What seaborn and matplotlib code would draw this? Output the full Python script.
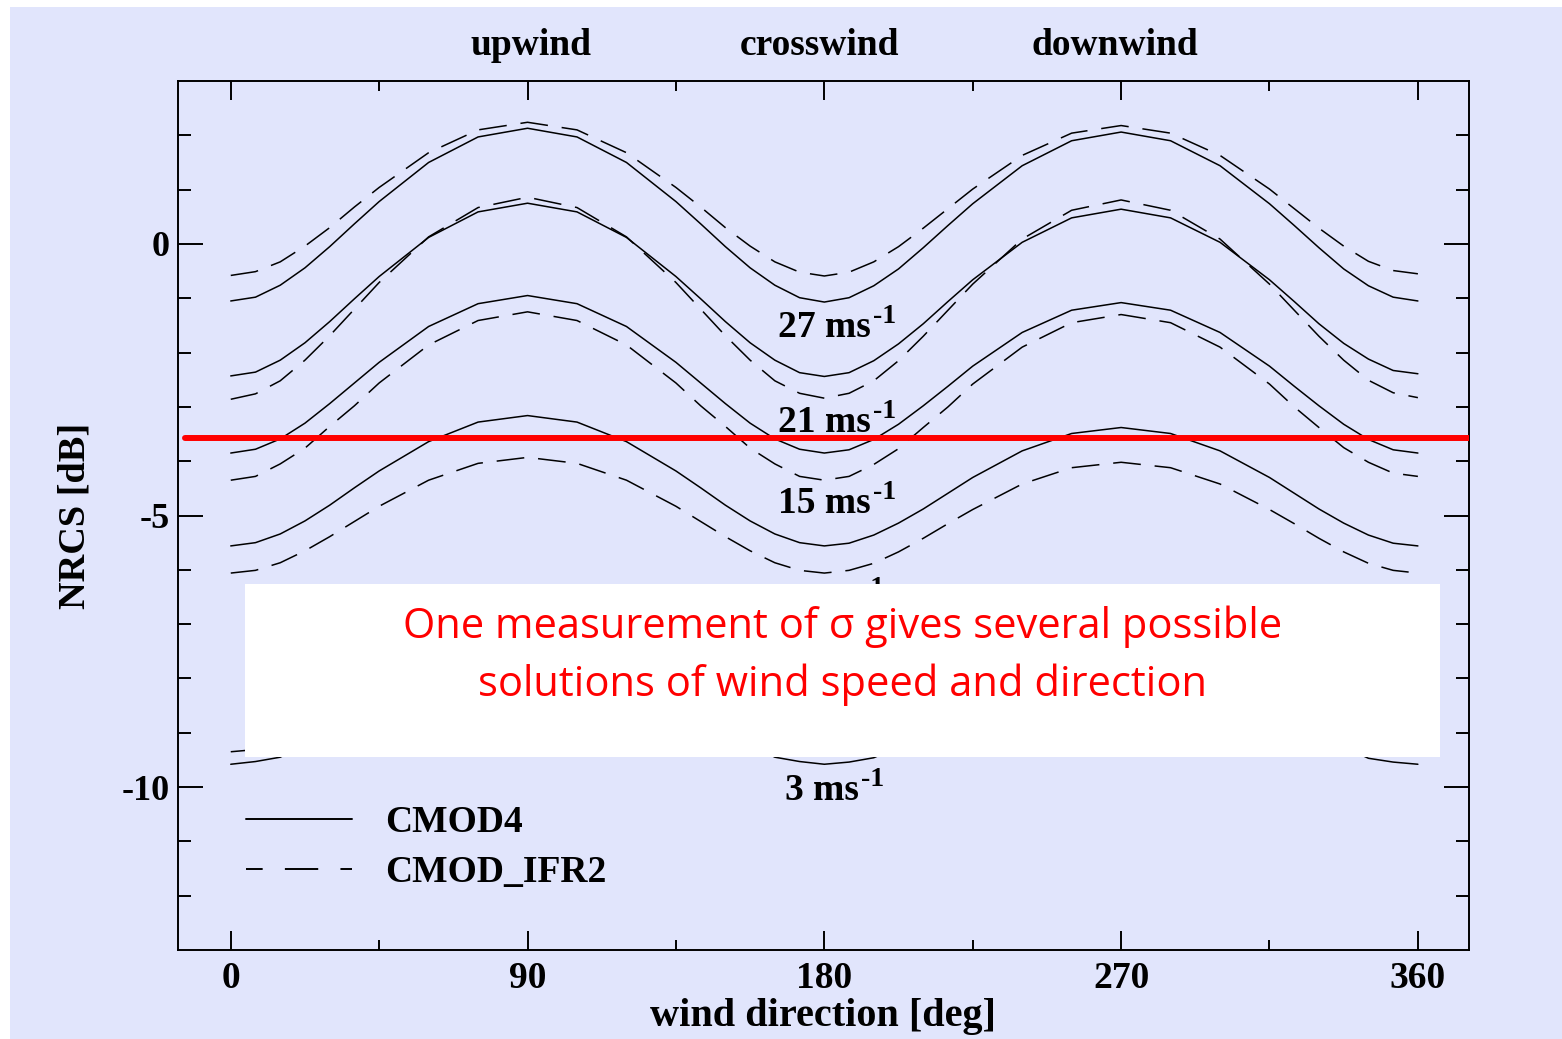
import numpy as np
import pandas as pd
import matplotlib
matplotlib.use("Agg")
import matplotlib.pyplot as plt
import matplotlib.transforms as mtransforms
from matplotlib.lines import Line2D
from matplotlib.patches import Rectangle
import seaborn as sns

# ---------------- data ----------------
direction = [0, 7.5, 15, 22.5, 30, 37.5, 45, 60, 75, 90, 105, 120,
             135, 142.5, 150, 157.5, 165, 172.5, 180, 187.5, 195, 202.5, 210, 217.5,
             225, 240, 255, 270, 285, 300,
             315, 322.5, 330, 337.5, 345, 352.5, 360]

cmod4_27 = [-1.05, -0.98, -0.76, -0.44, -0.05, 0.37, 0.78, 1.50, 1.97, 2.13, 1.97, 1.50,
            0.78, 0.37, -0.05, -0.44, -0.76, -0.99, -1.07, -0.99, -0.77, -0.46, -0.07, 0.34,
            0.74, 1.44, 1.90, 2.06, 1.90, 1.44,
            0.74, 0.34, -0.07, -0.46, -0.77, -0.98, -1.05]
ifr2_27 = [-0.58, -0.51, -0.33, -0.04, 0.30, 0.68, 1.04, 1.68, 2.10, 2.24, 2.10, 1.68,
           1.04, 0.68, 0.30, -0.04, -0.33, -0.52, -0.59, -0.52, -0.33, -0.05, 0.29, 0.65,
           1.01, 1.63, 2.04, 2.18, 2.04, 1.63,
           1.01, 0.65, 0.29, -0.04, -0.32, -0.49, -0.55]
cmod4_21 = [-2.43, -2.36, -2.14, -1.82, -1.43, -1.01, -0.60, 0.12, 0.59, 0.75, 0.59, 0.12,
            -0.60, -1.01, -1.43, -1.82, -2.14, -2.37, -2.44, -2.37, -2.15, -1.84, -1.47, -1.06,
            -0.66, 0.03, 0.48, 0.64, 0.48, 0.03,
            -0.66, -1.06, -1.47, -1.83, -2.12, -2.33, -2.39]
ifr2_21 = [-2.86, -2.76, -2.52, -2.14, -1.69, -1.20, -0.71, 0.13, 0.67, 0.86, 0.67, 0.13,
           -0.71, -1.20, -1.69, -2.14, -2.52, -2.75, -2.84, -2.75, -2.52, -2.15, -1.70, -1.22,
           -0.74, 0.09, 0.62, 0.81, 0.62, 0.09,
           -0.74, -1.22, -1.70, -2.14, -2.51, -2.74, -2.83]
cmod4_15 = [-3.85, -3.78, -3.59, -3.30, -2.94, -2.56, -2.18, -1.52, -1.10, -0.95, -1.10, -1.52,
            -2.18, -2.56, -2.94, -3.30, -3.59, -3.78, -3.85, -3.79, -3.60, -3.32, -2.98, -2.62,
            -2.25, -1.63, -1.22, -1.08, -1.22, -1.63,
            -2.25, -2.62, -2.98, -3.32, -3.60, -3.79, -3.85]
ifr2_15 = [-4.35, -4.28, -4.05, -3.76, -3.36, -2.98, -2.56, -1.86, -1.41, -1.25, -1.41, -1.86,
           -2.56, -2.98, -3.36, -3.76, -4.05, -4.28, -4.35, -4.28, -4.06, -3.77, -3.38, -3.00,
           -2.58, -1.90, -1.45, -1.30, -1.45, -1.90,
           -2.58, -3.00, -3.38, -3.75, -4.02, -4.22, -4.28]
cmod4_9 = [-5.56, -5.50, -5.34, -5.10, -4.81, -4.49, -4.18, -3.64, -3.28, -3.16, -3.28, -3.64,
           -4.18, -4.49, -4.81, -5.10, -5.34, -5.50, -5.56, -5.51, -5.36, -5.14, -4.88, -4.59,
           -4.30, -3.81, -3.49, -3.38, -3.49, -3.81,
           -4.30, -4.59, -4.88, -5.14, -5.36, -5.51, -5.56]
ifr2_9 = [-6.06, -6.01, -5.87, -5.65, -5.39, -5.11, -4.83, -4.35, -4.04, -3.93, -4.04, -4.35,
          -4.83, -5.11, -5.39, -5.65, -5.87, -6.01, -6.06, -6.01, -5.88, -5.67, -5.42, -5.15,
          -4.89, -4.42, -4.12, -4.02, -4.12, -4.42,
          -4.89, -5.15, -5.42, -5.67, -5.88, -6.01, -6.06]
cmod4_3 = [-9.58, -9.53, -9.45, -9.22, -8.96, -8.70, -8.44, -7.99, -7.70, -7.60, -7.70, -7.99,
           -8.44, -8.70, -8.96, -9.22, -9.45, -9.53, -9.58, -9.54, -9.46, -9.26, -9.05, -8.83,
           -8.61, -8.23, -7.99, -7.90, -7.99, -8.23,
           -8.61, -8.83, -9.05, -9.26, -9.47, -9.54, -9.58]
ifr2_3 = [-9.35, -9.31, -9.21, -9.06, -8.87, -8.67, -8.47, -8.12, -7.90, -7.82, -7.90, -8.12,
          -8.47, -8.67, -8.87, -9.06, -9.21, -9.33, -9.38, -9.35, -9.23, -9.10, -8.93, -8.76,
          -8.58, -8.28, -8.09, -8.02, -8.09, -8.28,
          -8.58, -8.76, -8.93, -9.10, -9.23, -9.35, -9.38]

speeds = ["27", "21", "15", "9", "3"]
speed_label_left = [165.9, 165.9, 165.9, 168.0, 168.0]
speed_label_y = [-1.72, -3.46, -4.96, -6.72, -10.23]

models = ["CMOD4", "CMOD_IFR2"]
regime_names = ["upwind", "crosswind", "downwind"]
regime_x = [91, 178.6, 268.1]

measured_nrcs = -3.58

x_ticks = [0, 90, 180, 270, 360]
x_tick_labels = ["0", "90", "180", "270", "360"]
y_ticks = [-10, -5, 0]
y_tick_labels = ["-10", "-5", "0"]

note_lines = ["One measurement of \u03c3 gives several possible",
              "solutions of wind speed and direction"]

curves = {
    ("27", "CMOD4"): cmod4_27, ("27", "CMOD_IFR2"): ifr2_27,
    ("21", "CMOD4"): cmod4_21, ("21", "CMOD_IFR2"): ifr2_21,
    ("15", "CMOD4"): cmod4_15, ("15", "CMOD_IFR2"): ifr2_15,
    ("9", "CMOD4"): cmod4_9, ("9", "CMOD_IFR2"): ifr2_9,
    ("3", "CMOD4"): cmod4_3, ("3", "CMOD_IFR2"): ifr2_3,
}
rows = []
for (spd, mdl), vals in curves.items():
    for d, v in zip(direction, vals):
        rows.append({"direction": d, "nrcs": v, "model": mdl, "curve": f"{spd}_{mdl}"})
df = pd.DataFrame(rows)

# ---------------- style ----------------
LAV = "#e1e5fc"
sns.set_theme(style="ticks")
plt.rcParams.update({
    "font.family": ["Liberation Serif", "DejaVu Serif"],
    "font.weight": "bold",
    "text.color": "black",
    "axes.labelcolor": "black",
    "xtick.color": "black",
    "ytick.color": "black",
    "axes.unicode_minus": False,
    "lines.scale_dashes": False,
})

fig = plt.figure(figsize=(15.62, 10.39), dpi=100, facecolor="white")
fig.patches.append(Rectangle((10 / 1562, 0), 1, 1 - 7 / 1039, transform=fig.transFigure,
                             facecolor=LAV, edgecolor="none", zorder=-10))
ax = fig.add_axes([178 / 1562, 89 / 1039, 1291 / 1562, 869 / 1039])
ax.set_facecolor(LAV)

sns.lineplot(data=df, x="direction", y="nrcs", units="curve", estimator=None,
             style="model", style_order=models,
             dashes={"CMOD4": "", "CMOD_IFR2": (20, 10)},
             color="black", lw=1.1, legend=False, sort=False, ax=ax)

ax.axhline(measured_nrcs, xmin=0.0054, xmax=1.0, color="#ff0000", lw=4.3, zorder=3)

for s, lx, ly in zip(speeds, speed_label_left, speed_label_y):
    t = ax.text(lx, ly, f"{s} ms", ha="left", va="baseline",
                fontsize=27, fontweight="bold", color="black", zorder=4)
    ax.annotate("-1", xy=(1, 0), xycoords=t, xytext=(1.5, 15.8),
                textcoords="offset points", ha="left", va="baseline",
                fontsize=20, fontweight="bold", color="black", zorder=4)

trans = mtransforms.blended_transform_factory(ax.transData, ax.transAxes)
for name, rx in zip(regime_names, regime_x):
    ax.text(rx, 1.030, name, transform=trans, ha="center", va="baseline",
            fontsize=27, fontweight="bold", color="black")

ax.set_xlim(-16, 375.5)
ax.set_ylim(-13, 3)
ax.set_xticks(x_ticks)
ax.set_xticks([45, 135, 225, 315], minor=True)
ax.set_yticks(y_ticks)
ax.set_yticks(list(range(-12, 3)), minor=True)
ax.set_xticklabels(x_tick_labels, fontsize=27, fontweight="bold")
ax.set_yticklabels(y_tick_labels, fontsize=26, fontweight="bold")
ax.tick_params(which="both", direction="in", top=True, right=True, width=1.4,
               color="black", labelcolor="black")
ax.tick_params(axis="x", which="major", length=14, pad=8)
ax.tick_params(axis="x", which="minor", length=7)
ax.tick_params(axis="y", which="major", length=18, pad=6)
ax.tick_params(axis="y", which="minor", length=9.5)
for sp in ax.spines.values():
    sp.set_linewidth(1.4)
    sp.set_color("black")
ax.grid(False)

ax.set_xlabel("wind direction [deg]", fontsize=29, fontweight="bold", color="black")
ax.set_ylabel("NRCS [dB]", fontsize=27.5, fontweight="bold", color="black")
ax.xaxis.set_label_coords(0.5, -0.055)
ax.yaxis.set_label_coords(-0.066, 0.5)

handles = [Line2D([], [], color="black", lw=1.4),
           Line2D([], [], color="black", lw=1.4, linestyle=(12, (24, 16)))]
leg = ax.legend(handles, models, loc="upper left", bbox_to_anchor=(0.0527, 0.1663),
                frameon=False, borderpad=0, borderaxespad=0, handlelength=2.83,
                handletextpad=0.88, labelspacing=0.39,
                prop={"family": "Liberation Serif", "weight": "bold", "size": 27})
for txt in leg.get_texts():
    txt.set_color("black")

# white overlay note
fig.patches.append(Rectangle((245 / 1562, 1 - 757 / 1039), (1440 - 245) / 1562, (757 - 584) / 1039,
                             transform=fig.transFigure, facecolor="white", edgecolor="none", zorder=5))
fig.text(842.5 / 1562, 1 - 638 / 1039, note_lines[0], ha="center", va="baseline",
         fontsize=30, color="#ff0000", family=["Open Sans", "DejaVu Sans"],
         fontweight="normal", zorder=6)
fig.text(842.5 / 1562, 1 - 696 / 1039, note_lines[1], ha="center", va="baseline",
         fontsize=30, color="#ff0000", family=["Open Sans", "DejaVu Sans"],
         fontweight="normal", zorder=6)

fig.savefig("out.png", dpi=100, facecolor=fig.get_facecolor())
